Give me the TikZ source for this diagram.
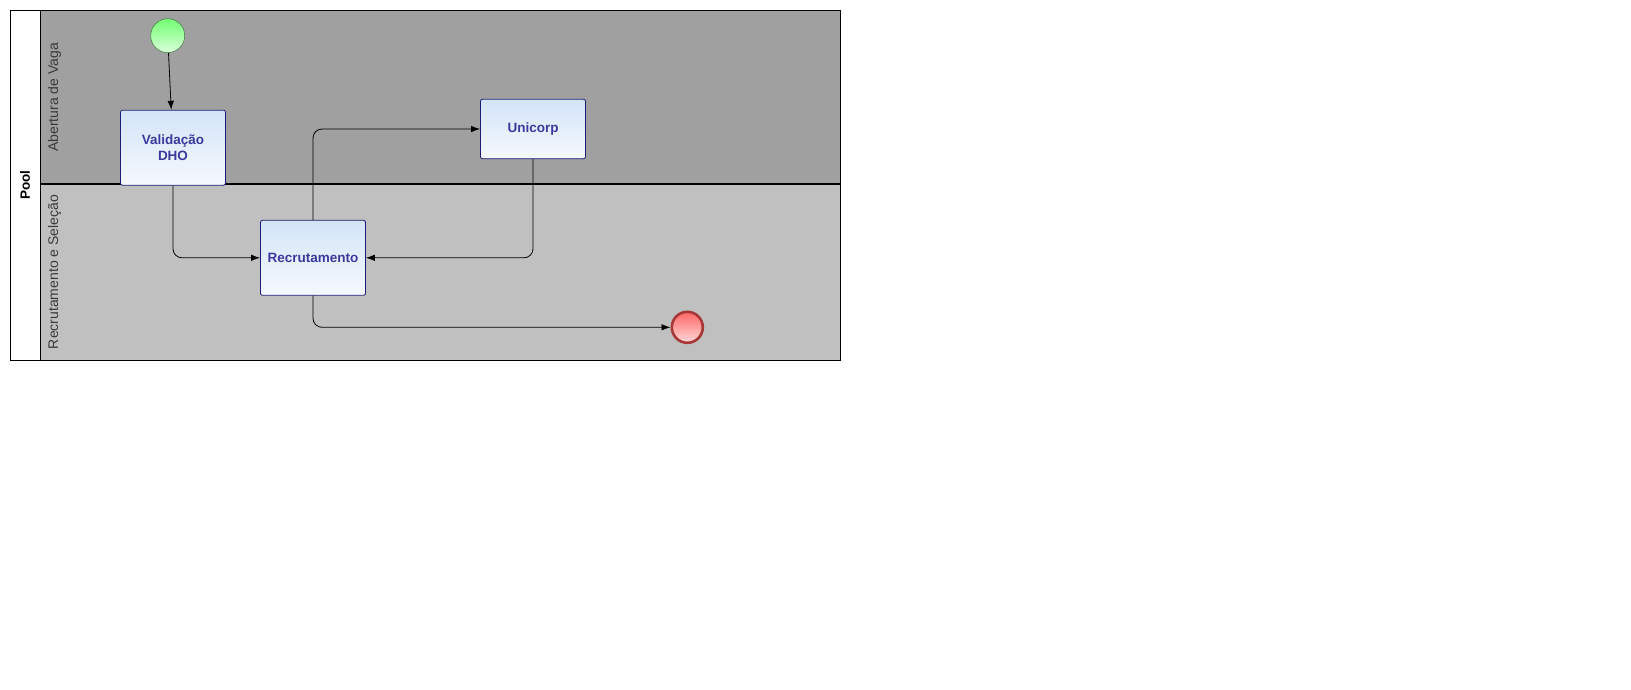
\documentclass[tikz,border=0pt]{standalone}
\usepackage{fontspec}
\setmainfont{Liberation Sans}
\usetikzlibrary{arrows.meta}
\definecolor{laneup}{HTML}{A0A0A0}
\definecolor{lanedown}{HTML}{C0C0C0}
\definecolor{taskline}{HTML}{1C1C78}
\definecolor{tasktext}{HTML}{3A3A9E}
\definecolor{tasktop}{HTML}{D3E4F7}
\definecolor{taskbot}{HTML}{F6F9FE}
\definecolor{lanetext}{HTML}{3A3A3A}
\definecolor{endline}{HTML}{A83838}

\begin{document}
\begin{tikzpicture}[x=1pt,y=-1pt,>={Latex[length=9pt,width=6.5pt]},line width=0.8pt,
    task node/.style={rectangle,rounded corners=2pt,draw=taskline,top color=tasktop,bottom color=taskbot,
      minimum width=105pt,align=center,text=tasktext,font=\bfseries\fontsize{13.5}{16}\selectfont},
    start node/.style={circle,draw=green!30!black!70,line width=0.6pt,top color=green!55,bottom color=green!15,minimum size=34pt,inner sep=0pt},
    end node/.style={circle,draw=endline,line width=2.6pt,top color=red!60,bottom color=red!15,minimum size=31pt,inner sep=0pt},
    lane label/.style={rotate=90,text=lanetext,font=\fontsize{14}{16}\selectfont}]
    \useasboundingbox (0,0) rectangle (1631,690);

    % pool and lanes
    \fill[laneup] (40.5,10.5) rectangle (840.5,184.5);
    \fill[lanedown] (40.5,184.5) rectangle (840.5,360);
    \draw[line width=1pt] (10.5,10.5) rectangle (840.5,360);
    \draw[line width=1pt] (40.5,10.5) -- (40.5,360);
    \draw[line width=2pt] (40.5,184.5) -- (840.5,184.5);
    \node[rotate=90,font=\bfseries\fontsize{13.5}{15}\selectfont] (pool) at (25,185) {Pool};
    \node[lane label] (vaga) at (54.5,97.5) {Abertura de Vaga};
    \node[lane label] (selecao) at (54.5,272) {Recrutamento e Seleção};

    % events and tasks
    \node[start node] (inicio) at (167.7,35.7) {};
    \node[task node,minimum height=75pt] (dho) at (173,147.7) {Validação\\DHO};
    \node[task node,minimum height=75pt] (recrut) at (313,257.8) {Recrutamento};
    \node[task node,minimum height=59.5pt] (unicorp) at (533,129) {Unicorp};
    \node[end node] (fim) at (687.3,327.3) {};

    \path[->,rounded corners=9pt]
    (inicio) edge (dho)
    (dho.south) edge[to path={|- (\tikztotarget)}] (recrut.west)
    (recrut.north) edge[to path={|- (\tikztotarget)}] (unicorp.west)
    (unicorp.south) edge[to path={|- (\tikztotarget)}] (recrut.east)
    (recrut.south) edge[to path={|- (\tikztotarget)}] (fim.west);
\end{tikzpicture}
\end{document}
